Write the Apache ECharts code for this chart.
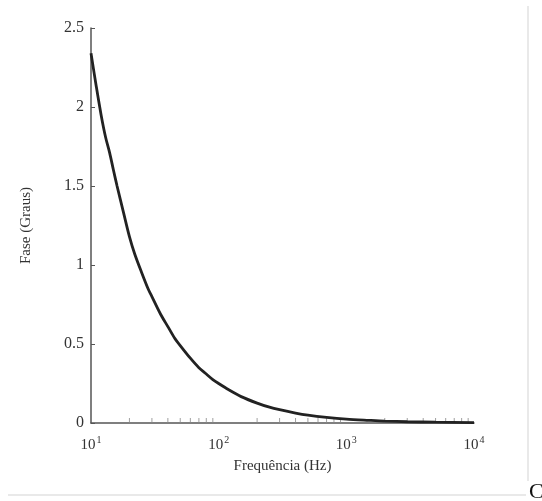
<!DOCTYPE html>
<html>
<head>
<meta charset="utf-8">
<script src="https://cdn.jsdelivr.net/npm/echarts@6/dist/echarts.min.js"></script>
<style>
  html, body { margin: 0; padding: 0; background: #fff; }
  #chart { width: 542px; height: 501px; }
</style>
</head>
<body>
<div id="chart"></div>
<script>
// Phase response of the sensor (degrees) versus frequency (Hz)
var frequencies = [10, 11, 12, 13, 14, 15, 16, 18, 20, 22, 25, 28, 30, 35, 40, 45, 50, 60, 70, 80, 90, 100,
                   120, 150, 200, 250, 300, 400, 500, 700, 1000, 1500, 2000, 3000, 5000, 10000];
var phaseDeg    = [2.34, 2.13, 1.95, 1.81, 1.71, 1.60, 1.50, 1.33, 1.18, 1.07, 0.95, 0.85, 0.80, 0.69, 0.61, 0.54, 0.49, 0.41, 0.35, 0.31, 0.275, 0.25,
                   0.21, 0.167, 0.126, 0.10, 0.084, 0.063, 0.05, 0.036, 0.025, 0.017, 0.012, 0.008, 0.005, 0.003];

// Log-scale minor tick positions along the frequency axis
var minorTickFreqs = [20, 30, 40, 50, 60, 70, 80, 90, 200, 300, 400, 500, 600, 700, 800, 900, 2000, 3000, 4000, 5000, 6000, 7000, 8000, 9000];

var yTicks = [0, 0.5, 1, 1.5, 2, 2.5];

var serif = '"Liberation Serif", "DejaVu Serif", serif';

var chart = echarts.init(document.getElementById('chart'));

chart.setOption({
  animation: false,
  backgroundColor: '#ffffff',
  grid: { left: 91, right: 68, top: 28, bottom: 78 },
  xAxis: {
    type: 'log',
    logBase: 10,
    min: 10,
    max: 10000,
    name: 'Frequência (Hz)',
    nameLocation: 'middle',
    nameGap: 36,
    nameTextStyle: { fontFamily: serif, fontSize: 15, color: '#333' },
    axisLine: { lineStyle: { color: '#555', width: 1.5 } },
    axisTick: { show: false },
    splitLine: { show: false },
    axisLabel: {
      margin: 12,
      formatter: function (v) {
        var e = Math.round(Math.log10(v));
        return '{b|10}{s|' + e + '}';
      },
      rich: {
        b: { fontFamily: serif, fontSize: 15, color: '#333', verticalAlign: 'bottom' },
        s: { fontFamily: serif, fontSize: 10, color: '#333', verticalAlign: 'top', padding: [0, 0, 8, 1] }
      }
    }
  },
  yAxis: {
    type: 'value',
    min: 0,
    max: 2.5,
    interval: 0.5,
    name: 'Fase (Graus)',
    nameLocation: 'middle',
    nameGap: 57,
    nameTextStyle: { fontFamily: serif, fontSize: 15, color: '#333' },
    axisLine: { show: true, lineStyle: { color: '#555', width: 1.5 } },
    axisTick: { show: true, inside: true, length: 4, lineStyle: { color: '#555' } },
    splitLine: { show: false },
    axisLabel: {
      margin: 7,
      fontFamily: serif,
      fontSize: 16,
      color: '#333',
      formatter: function (v) {
        return yTicks.indexOf(v) >= 0 ? String(v) : '';
      }
    }
  },
  series: [
    {
      type: 'scatter',
      data: minorTickFreqs.map(function (f) { return [f, 0]; }),
      symbol: 'rect',
      symbolSize: [1, 5],
      symbolOffset: [0, -2.5],
      itemStyle: { color: '#888' },
      silent: true,
      z: 1
    },
    {
      type: 'line',
      data: frequencies.map(function (f, i) { return [f, phaseDeg[i]]; }),
      smooth: 0.3,
      showSymbol: false,
      lineStyle: { color: '#222', width: 2.8 },
      z: 3
    }
  ],
  graphic: [
    {
      type: 'line',
      shape: { x1: 528, y1: 6, x2: 528, y2: 481 },
      style: { stroke: '#e2e2e2', lineWidth: 1.5 }
    },
    {
      type: 'line',
      shape: { x1: 8, y1: 495, x2: 526, y2: 495 },
      style: { stroke: '#e2e2e2', lineWidth: 1.5 }
    },
    {
      type: 'text',
      left: 529,
      top: 481,
      style: { text: 'C', font: '22px "Liberation Serif", serif', fill: '#111' }
    }
  ]
});
</script>
</body>
</html>
